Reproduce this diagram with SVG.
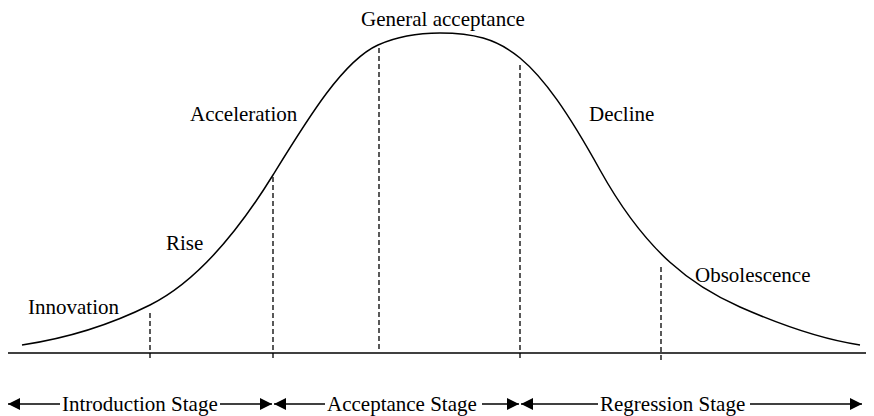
<svg xmlns="http://www.w3.org/2000/svg" width="874" height="416" viewBox="0 0 874 416">
<style>
.lbl{font-family:"Liberation Serif","Times New Roman",serif;font-size:21px;fill:#000}
.curve{fill:none;stroke:#000;stroke-width:1.5}
.axis{stroke:#000;stroke-width:1.5}
.dash{stroke:#000;stroke-width:1.3;stroke-dasharray:5,3}
.arr{stroke:#000;stroke-width:1.5;fill:none}
</style>
<defs>
<marker id="ah" viewBox="0 0 12 12" refX="12" refY="6" markerWidth="12" markerHeight="12" markerUnits="userSpaceOnUse" orient="auto-start-reverse">
<path d="M0,0 L12,6 L0,12 Z" fill="#000"/>
</marker>
</defs>
<rect width="874" height="416" fill="#fff"/>
<g id="axis"><line class="axis" x1="8" y1="353" x2="866" y2="353"/></g>
<g id="curve"><path class="curve" d="M22,345 C64.7,338.6 107.3,326.3 150,305 C191,284.5 232,241.4 273,175 C308,118.3 343,60.75 378,45 C398.7,35.7 419.3,33 440,33 C504.4,33 535.6,54 600,170 C646.7,254 693.3,286.5 740,307 C780,324.6 820,339 860,345"/></g>
<g id="dividers">
<line class="dash" x1="150" y1="313" x2="150" y2="359"/>
<line class="dash" x1="273" y1="177" x2="273" y2="360"/>
<line class="dash" x1="379" y1="48" x2="379" y2="352"/>
<line class="dash" x1="520" y1="65" x2="520" y2="358"/>
<line class="dash" x1="661" y1="267" x2="661" y2="360"/>
</g>
<g id="labels">
<text class="lbl" x="361" y="26">General acceptance</text>
<text class="lbl" x="190" y="121">Acceleration</text>
<text class="lbl" x="166" y="250">Rise</text>
<text class="lbl" x="28" y="314">Innovation</text>
<text class="lbl" x="589" y="121">Decline</text>
<text class="lbl" x="695" y="282">Obsolescence</text>
</g>
<g id="connectors">
<line class="arr" x1="8" y1="404" x2="60" y2="404" marker-start="url(#ah)"/>
<line class="arr" x1="220" y1="404" x2="272" y2="404" marker-end="url(#ah)"/>
<line class="arr" x1="274" y1="404" x2="325" y2="404" marker-start="url(#ah)"/>
<line class="arr" x1="482" y1="404" x2="519" y2="404" marker-end="url(#ah)"/>
<line class="arr" x1="521" y1="404" x2="598" y2="404" marker-start="url(#ah)"/>
<line class="arr" x1="750" y1="404" x2="862" y2="404" marker-end="url(#ah)"/>
</g>
<g id="stage-intro"><text class="lbl" x="62" y="411">Introduction Stage</text></g>
<g id="stage-accept"><text class="lbl" x="327" y="411">Acceptance Stage</text></g>
<g id="stage-regress"><text class="lbl" x="600" y="411">Regression Stage</text></g>
</svg>
